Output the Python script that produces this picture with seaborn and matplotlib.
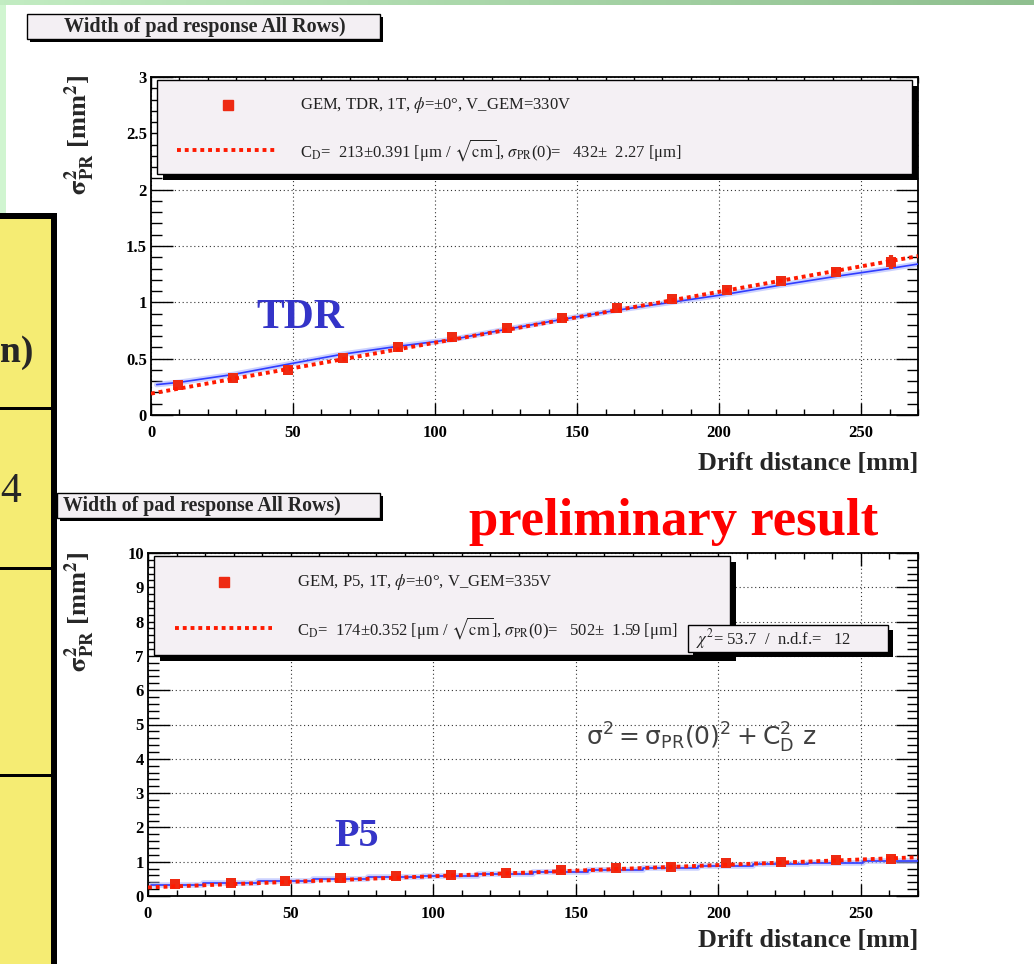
import numpy as np
import matplotlib
matplotlib.use("Agg")
import matplotlib.pyplot as plt
from matplotlib.patches import Rectangle
from matplotlib.ticker import MultipleLocator, FuncFormatter
import seaborn as sns

# ---------------- data ----------------
drift_mm = [9.6, 29.0, 48.2, 67.5, 86.8, 106.1, 125.4, 144.7, 164.0, 183.3, 202.6, 221.9, 241.2, 260.5]
tdr_sigma2 = [0.27, 0.33, 0.40, 0.51, 0.60, 0.69, 0.77, 0.86, 0.95, 1.03, 1.11, 1.19, 1.27, 1.36]
tdr_err = [0.015, 0.02, 0.02, 0.02, 0.02, 0.02, 0.02, 0.02, 0.025, 0.025, 0.03, 0.03, 0.035, 0.06]
p5_sigma2 = [0.35, 0.38, 0.45, 0.52, 0.57, 0.61, 0.66, 0.76, 0.81, 0.84, 0.95, 1.00, 1.05, 1.09]
p5_err = [0.12, 0.10, 0.10, 0.08, 0.08, 0.08, 0.08, 0.10, 0.12, 0.10, 0.08, 0.08, 0.08, 0.08]

fit_x = [0, 270]
tdr_fit = [0.19, 1.41]
p5_fit = [0.25, 1.13]

tdr_blue_x = [2, 10, 29, 48, 67.5, 87, 106, 125, 145, 164, 183, 202, 221, 241, 260, 270]
tdr_blue_y = [0.27, 0.29, 0.36, 0.45, 0.54, 0.61, 0.67, 0.76, 0.85, 0.93, 1.00, 1.07, 1.15, 1.23, 1.30, 1.34]
p5_blue_x = [1, 9.6, 29.0, 48.2, 67.5, 86.8, 106.1, 125.4, 144.7, 164.0, 183.3, 202.6, 221.9, 241.2, 260.5, 270]
p5_blue_y = [0.32, 0.32, 0.38, 0.44, 0.50, 0.55, 0.59, 0.64, 0.70, 0.76, 0.82, 0.88, 0.92, 0.96, 1.01, 1.01]

title_text = "Width of pad response All Rows)"
xlabel_text = "Drift distance [mm]"
ylabel_text = r"$\mathbf{\sigma^{2}_{PR}}$ [mm$^{\mathbf{2}}$]"
tdr_leg1 = "GEM, TDR, 1T, $\\phi$=±0°, V_GEM=330V"
tdr_leg2 = "C$_{\\rm D}$=  213±0.391 [μm / $\\sqrt{\\rm cm}$], $\\sigma_{\\rm PR}$(0)=   432±  2.27 [μm]"
p5_leg1 = "GEM, P5, 1T, $\\phi$=±0°, V_GEM=335V"
p5_leg2 = "C$_{\\rm D}$=  174±0.352 [μm / $\\sqrt{\\rm cm}$], $\\sigma_{\\rm PR}$(0)=   502±  1.59 [μm]"
chi_text = "$\\chi^{2}$= 53.7  /  n.d.f.=   12"
formula_text = r"$\mathrm{\sigma^{2} = \sigma_{PR}(0)^{2} + C_{D}^{2}\ z}$"

# ---------------- style ----------------
sns.set_theme(style="white")
plt.rcParams["font.family"] = ["Liberation Serif", "DejaVu Serif"]
plt.rcParams["mathtext.fontset"] = "stix"

W, H = 1034, 964
fig = plt.figure(figsize=(W / 100, H / 100), dpi=100)
fig.patch.set_facecolor("white")


def fx(x):
    return x / W


def fy(y):
    return 1 - y / H


def rect(x0, y0, x1, y1, fc, ec="none", lw=0, z=1):
    r = Rectangle((fx(x0), fy(y1)), (x1 - x0) / W, (y1 - y0) / H, transform=fig.transFigure,
                  facecolor=fc, edgecolor=ec, linewidth=lw, zorder=z)
    fig.patches.append(r)
    return r


def shadow_box(x0, y0, x1, y1, sh=4, fc="#f4f0f4", z=2):
    rect(x0 + sh, y0 + sh, x1 + sh, y1 + sh, "black", z=z)
    rect(x0, y0, x1, y1, fc, ec="black", lw=1.0, z=z + 0.1)


def ftext(x, y, s, z=5, **kw):
    fig.text(fx(x), fy(y), s, zorder=z, **kw)


# background decorations
gax = fig.add_axes([0, fy(5), 1, 5 / H])
gax.imshow(np.linspace(0, 1, 256)[None, :], aspect="auto",
           cmap=matplotlib.colors.LinearSegmentedColormap.from_list("g", ["#c2ecc2", "#8fbf8f"]))
gax.set_axis_off()
rect(0, 5, 6, 213, "#d0f5d0")

# yellow table on left
rect(0, 217, 52, 964, "#f5ec73")
rect(0, 213, 57, 219, "black")
rect(51, 213, 57, 964, "black")
for yl in [408, 568, 775]:
    rect(0, yl - 1.5, 52, yl + 1.5, "black")
ftext(0, 353, "n)", fontsize=27, fontweight="bold", va="center", ha="left")
ftext(0, 492, "4", fontsize=30, va="center", ha="left")


def setup_axes(ax, ymax, ymaj, ymin):
    ax.set_xlim(0, 270)
    ax.set_ylim(0, ymax)
    ax.set_facecolor("white")
    ax.xaxis.set_major_locator(MultipleLocator(50))
    ax.xaxis.set_minor_locator(MultipleLocator(10))
    ax.yaxis.set_major_locator(MultipleLocator(ymaj))
    ax.yaxis.set_minor_locator(MultipleLocator(ymin))
    ax.yaxis.set_major_formatter(FuncFormatter(lambda v, p: "%g" % v))
    ax.xaxis.set_major_formatter(FuncFormatter(lambda v, p: "%g" % v))
    ax.tick_params(which="both", direction="in", top=True, right=True, left=True, bottom=True,
                   colors="black", width=1.0)
    ax.tick_params(axis="y", which="major", length=16, pad=3)
    ax.tick_params(axis="y", which="minor", length=8)
    ax.tick_params(axis="x", which="major", length=9, pad=7)
    ax.tick_params(axis="x", which="minor", length=4)
    for lab in ax.get_xticklabels() + ax.get_yticklabels():
        lab.set_fontweight("bold")
        lab.set_fontsize(12)
    for sp in ax.spines.values():
        sp.set_color("black")
        sp.set_linewidth(1.3)
    ax.grid(True, which="major", linestyle=(0, (1, 2.5)), color="#333333", linewidth=0.8)
    ax.set_xlabel("")
    ax.set_ylabel("")


def draw_data(ax, y, yerr, fit, bx, by, step):
    sns.lineplot(x=bx, y=by, ax=ax, color="#aab4ff", linewidth=4, alpha=0.6, sort=False,
                 drawstyle="steps-mid" if step else "default", zorder=2)
    sns.lineplot(x=bx, y=by, ax=ax, color="#2f3cff", linewidth=1.2, sort=False,
                 drawstyle="steps-mid" if step else "default", zorder=3)
    ax.errorbar(drift_mm, y, yerr=yerr, fmt="none", ecolor="#e8321a", elinewidth=3, zorder=4)
    sns.scatterplot(x=drift_mm, y=y, ax=ax, marker="s", s=52, color="#ee2a12",
                    edgecolor="none", linewidth=0, zorder=5)
    sns.lineplot(x=fit_x, y=fit, ax=ax, color="#ff1a00", linewidth=2.8,
                 linestyle=(0, (1.0, 1.0)), zorder=6)


# ---------------- top plot (TDR) ----------------
ax1 = fig.add_axes([fx(151), fy(415), (918 - 151) / W, (415 - 77) / H])
draw_data(ax1, tdr_sigma2, tdr_err, tdr_fit, tdr_blue_x, tdr_blue_y, False)
setup_axes(ax1, 3, 0.5, 0.1)

# ---------------- bottom plot (P5) ----------------
ax2 = fig.add_axes([fx(148), fy(896), (918 - 148) / W, (896 - 553) / H])
draw_data(ax2, p5_sigma2, p5_err, p5_fit, p5_blue_x, p5_blue_y, True)
setup_axes(ax2, 10, 1, 0.2)

# titles
shadow_box(27, 14, 380, 39, sh=3, fc="#f3eff3")
ftext(205, 27, title_text, fontsize=14.5, fontweight="bold", ha="center", va="center")
shadow_box(57, 493, 380, 518, sh=3, fc="#f3eff3")
ftext(202, 506, title_text, fontsize=14.3, fontweight="bold", ha="center", va="center")

# axis titles
for (yy_top, yx) in [(75, 463), (552, 941)]:
    fig.text(fx(80), fy(yy_top), ylabel_text, rotation=90, rotation_mode="anchor",
             ha="right", va="center", fontsize=19, fontweight="bold", zorder=5)
    ftext(918, yx, xlabel_text, fontsize=18.8, fontweight="bold", ha="right", va="center")

# legends (top)
shadow_box(157, 80, 912, 174, sh=6, fc="#f4f0f4")
fig.lines.append(matplotlib.lines.Line2D([fx(228)], [fy(105)], marker="s", markersize=7,
                                         color="#ee2a12", linestyle="none",
                                         transform=fig.transFigure, zorder=4))
fig.lines.append(matplotlib.lines.Line2D([fx(177), fx(277)], [fy(150), fy(150)], color="#ff1a00",
                                         linewidth=2.8, linestyle=(0, (1.0, 1.0)),
                                         transform=fig.transFigure, zorder=4))
ftext(300, 105, tdr_leg1, fontsize=12, ha="left", va="center", color="#222222")
ftext(300, 150, tdr_leg2, fontsize=12, ha="left", va="center", color="#222222")

# legends (bottom)
shadow_box(154, 556, 730, 655, sh=6, fc="#f4f0f4")
fig.lines.append(matplotlib.lines.Line2D([fx(224)], [fy(582)], marker="s", markersize=7,
                                         color="#ee2a12", linestyle="none",
                                         transform=fig.transFigure, zorder=4))
fig.lines.append(matplotlib.lines.Line2D([fx(175), fx(272)], [fy(628), fy(628)], color="#ff1a00",
                                         linewidth=2.8, linestyle=(0, (1.0, 1.0)),
                                         transform=fig.transFigure, zorder=4))
ftext(297, 582, p5_leg1, fontsize=12, ha="left", va="center", color="#222222")
ftext(297, 628, p5_leg2, fontsize=12, ha="left", va="center", color="#222222")

# chi2 box
shadow_box(688, 625, 888, 652, sh=5, fc="#f4f0f4", z=6)
ftext(696, 639, chi_text, z=8, fontsize=12, ha="left", va="center", color="#222222")

# formula
fig.text(fx(586), fy(738), formula_text, fontsize=18, ha="left", va="center",
         color="#404040", math_fontfamily="dejavusans", zorder=5)

# labels
ftext(300, 318, "TDR", fontsize=30, fontweight="bold", color="#3434c8", ha="center", va="center")
ftext(357, 837, "P5", fontsize=29, fontweight="bold", color="#3434c8", ha="center", va="center")
ftext(674, 522, "preliminary result", fontsize=38, fontweight="bold", color="#ff0000",
      ha="center", va="center")

fig.savefig("out.png", dpi=100)
